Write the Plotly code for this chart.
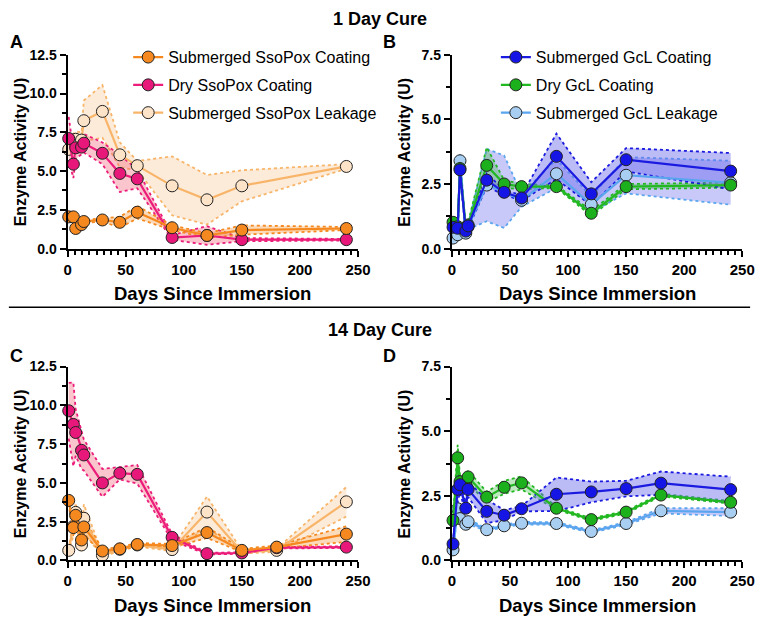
import plotly.graph_objects as go

# ---------------- data ----------------
days_1 = [1, 5, 7, 12, 14, 30, 45, 60, 90, 120, 150, 240]
days_14 = [1, 5, 7, 12, 14, 30, 45, 60, 90, 120, 150, 180, 240]

# Panel A (1 day cure, SsoPox)
sso_sub_A = [2.05, 2.05, 1.3, 1.55, 1.75, 1.85, 1.7, 2.35, 1.35, 0.85, 1.2, 1.3]
sso_sub_A_sd = [0.1, 0.15, 0.15, 0.1, 0.1, 0.1, 0.35, 0.4, 0.15, 0.15, 0.3, 0.1]
sso_dry_A = [7.1, 5.45, 6.5, 6.55, 6.8, 6.15, 4.85, 4.5, 0.72, 0.85, 0.58, 0.58]
sso_dry_A_sd = [1.4, 0.9, 0.7, 0.5, 0.6, 0.7, 1.2, 0.6, 0.15, 0.6, 0.1, 0.05]
sso_leak_A = [6.4, 7.0, 7.05, 7.0, 8.25, 8.85, 6.05, 5.35, 4.05, 3.15, 4.05, 5.3]
sso_leak_A_sd = [0.2, 0.4, 0.5, 0.5, 1.3, 1.7, 0.8, 0.3, 1.9, 1.6, 1.0, 0.15]

# Panel B (1 day cure, GcL)
gcl_sub_B = [0.83, 0.79, 3.05, 0.68, 0.88, 2.65, 2.18, 1.96, 3.57, 2.12, 3.44, 3.0]
gcl_sub_B_sd = [0.1, 0.1, 0.2, 0.1, 0.1, 0.25, 0.1, 0.1, 0.88, 0.45, 0.45, 0.7]
gcl_dry_B = [1.02, 0.85, 3.1, 0.8, 0.92, 3.22, 2.5, 2.4, 2.4, 1.37, 2.4, 2.46]
gcl_dry_B_sd = [0.05, 0.05, 0.2, 0.05, 0.1, 0.7, 0.15, 0.1, 0.05, 0.1, 0.1, 0.1]
gcl_leak_B = [0.41, 0.54, 3.4, 0.6, 0.85, 2.46, 2.2, 1.87, 2.9, 1.71, 2.84, 2.55]
gcl_leak_B_sd = [0.05, 0.05, 0.25, 0.1, 0.1, 1.4, 1.4, 0.25, 0.55, 0.3, 0.7, 0.85]

# Panel C (14 day cure, SsoPox)
sso_sub_C = [3.87, 2.12, 2.91, 1.32, 2.16, 0.61, 0.75, 1.03, 0.96, 1.8, 0.65, 0.86, 1.7]
sso_sub_C_sd = [0.2, 0.6, 0.4, 0.4, 0.5, 0.15, 0.1, 0.1, 0.1, 0.35, 0.1, 0.1, 0.5]
sso_dry_C = [9.65, 8.77, 8.25, 7.1, 6.8, 5.0, 5.63, 5.55, 1.49, 0.44, 0.48, 0.82, 0.86]
sso_dry_C_sd = [1.8, 2.7, 1.5, 1.2, 1.0, 0.9, 0.4, 0.6, 0.2, 0.05, 0.05, 0.05, 0.05]
sso_leak_C = [0.65, 2.2, 3.1, 1.0, 2.72, 0.33, 0.72, 1.0, 0.7, 3.12, 0.55, 0.65, 3.78]
sso_leak_C_sd = [0.1, 0.6, 0.6, 0.4, 0.9, 0.1, 0.1, 0.1, 0.1, 1.0, 0.1, 0.1, 0.95]

# Panel D (14 day cure, GcL)
gcl_sub_D = [0.64, 2.75, 2.93, 2.02, 2.75, 1.9, 1.75, 2.0, 2.56, 2.65, 2.78, 2.99, 2.74]
gcl_sub_D_sd = [0.05, 0.5, 0.3, 0.2, 0.3, 0.45, 0.2, 0.1, 0.65, 0.4, 0.3, 0.45, 0.5]
gcl_dry_D = [1.55, 3.97, 3.05, 2.95, 3.23, 2.45, 2.83, 3.0, 2.02, 1.58, 1.87, 2.53, 2.25]
gcl_dry_D_sd = [0.05, 0.5, 0.2, 0.15, 0.25, 0.2, 0.25, 0.25, 0.05, 0.05, 0.05, 0.05, 0.05]
gcl_leak_D = [0.41, 2.0, 1.62, 1.4, 1.5, 1.19, 1.34, 1.44, 1.43, 1.12, 1.43, 1.92, 1.87]
gcl_leak_D_sd = [0.05, 0.1, 0.1, 0.1, 0.1, 0.05, 0.05, 0.05, 0.05, 0.05, 0.05, 0.1, 0.15]

x_ticks = [0, 50, 100, 150, 200, 250]

# ---------------- styles ----------------
F = "Liberation Sans"
ORANGE = dict(line="#F5891F", marker="#F5891F", band="rgba(245,137,31,0.30)")
PINK = dict(line="#EC1C7B", marker="#E8177A", band="rgba(240,90,110,0.35)")
PEACH = dict(line="#F8B56A", marker="#FDE3C8", band="rgba(250,190,130,0.30)")
BLUE = dict(line="#1A1AE0", marker="#1515E6", band="rgba(105,105,235,0.45)")
GREEN = dict(line="#22B822", marker="#1DB01D", band="rgba(40,180,40,0.30)")
LBLUE = dict(line="#5AA6EE", marker="#A8CFF2", band="rgba(120,120,240,0.40)")

fig = go.Figure()


def band(x, y, sd, col, xa, ya):
    up = [a + b for a, b in zip(y, sd)]
    lo = [max(a - b, 0) for a, b in zip(y, sd)]
    fig.add_trace(go.Scatter(x=list(x) + list(x)[::-1], y=up + lo[::-1], fill="toself",
                             fillcolor=col["band"], line=dict(width=0), mode="lines",
                             showlegend=False, hoverinfo="skip", xaxis=xa, yaxis=ya))
    for yy in (up, lo):
        fig.add_trace(go.Scatter(x=x, y=yy, mode="lines",
                                 line=dict(color=col["line"], width=1.8, dash="dot"),
                                 showlegend=False, hoverinfo="skip", xaxis=xa, yaxis=ya))


def series(x, y, col, name, xa, ya, legend, rank, show):
    fig.add_trace(go.Scatter(x=x, y=y, mode="lines+markers", name=name,
                             line=dict(color=col["line"], width=2.2),
                             marker=dict(size=12, color=col["marker"], line=dict(color="#222", width=1)),
                             showlegend=show, legend=legend, legendrank=rank,
                             legendgroup=name + legend,
                             cliponaxis=False, xaxis=xa, yaxis=ya))


# Panel A
band(days_1, sso_leak_A, sso_leak_A_sd, PEACH, "x", "y")
band(days_1, sso_dry_A, sso_dry_A_sd, PINK, "x", "y")
band(days_1, sso_sub_A, sso_sub_A_sd, ORANGE, "x", "y")
series(days_1, sso_leak_A, PEACH, "Submerged SsoPox Leakage", "x", "y", "legend", 3, True)
series(days_1, sso_dry_A, PINK, "Dry SsoPox Coating", "x", "y", "legend", 2, True)
series(days_1, sso_sub_A, ORANGE, "Submerged SsoPox Coating", "x", "y", "legend", 1, True)

# Panel B
band(days_1, gcl_leak_B, gcl_leak_B_sd, LBLUE, "x2", "y2")
band(days_1, gcl_dry_B, gcl_dry_B_sd, GREEN, "x2", "y2")
band(days_1, gcl_sub_B, gcl_sub_B_sd, BLUE, "x2", "y2")
series(days_1, gcl_leak_B, LBLUE, "Submerged GcL Leakage", "x2", "y2", "legend2", 3, True)
series(days_1, gcl_dry_B, GREEN, "Dry GcL Coating", "x2", "y2", "legend2", 2, True)
series(days_1, gcl_sub_B, BLUE, "Submerged GcL Coating", "x2", "y2", "legend2", 1, True)

# Panel C
band(days_14, sso_leak_C, sso_leak_C_sd, PEACH, "x3", "y3")
band(days_14, sso_dry_C, sso_dry_C_sd, PINK, "x3", "y3")
band(days_14, sso_sub_C, sso_sub_C_sd, ORANGE, "x3", "y3")
series(days_14, sso_leak_C, PEACH, "Submerged SsoPox Leakage", "x3", "y3", "legend", 3, False)
series(days_14, sso_dry_C, PINK, "Dry SsoPox Coating", "x3", "y3", "legend", 2, False)
series(days_14, sso_sub_C, ORANGE, "Submerged SsoPox Coating", "x3", "y3", "legend", 1, False)

# Panel D
band(days_14, gcl_leak_D, gcl_leak_D_sd, LBLUE, "x4", "y4")
band(days_14, gcl_dry_D, gcl_dry_D_sd, GREEN, "x4", "y4")
band(days_14, gcl_sub_D, gcl_sub_D_sd, BLUE, "x4", "y4")
series(days_14, gcl_leak_D, LBLUE, "Submerged GcL Leakage", "x4", "y4", "legend2", 3, False)
series(days_14, gcl_dry_D, GREEN, "Dry GcL Coating", "x4", "y4", "legend2", 2, False)
series(days_14, gcl_sub_D, BLUE, "Submerged GcL Coating", "x4", "y4", "legend2", 1, False)

W, H = 768, 624


def px_x(p):
    return p / W


def px_y(p):
    return 1 - p / H


XL = [px_x(65), px_x(362)]
XR = [px_x(458), px_x(755)]
YT = [px_y(247), px_y(48)]
YB = [px_y(567), px_y(368)]

xtickfont = dict(family=F, size=15, color="black", weight="bold")
ytickfont = dict(family=F, size=14, color="black", weight="bold")


def xax(domain, anchor):
    return dict(domain=domain, anchor=anchor, range=[0, 250], tickvals=x_ticks,
                showline=True, linecolor="black", linewidth=2, ticks="outside", ticklen=6,
                tickwidth=2, tickcolor="black", tickfont=xtickfont, showgrid=False, zeroline=False,
                minor=dict(dtick=6.25, tick0=0, ticklen=4, tickwidth=1.5, tickcolor="black",
                           ticks="outside", showgrid=False))


def yax(domain, anchor, top):
    return dict(domain=domain, anchor=anchor, range=[0, top], dtick=2.5, tick0=0, tickformat=".1f",
                showline=True, linecolor="black", linewidth=2, ticks="outside", ticklen=6,
                tickwidth=2, tickcolor="black", tickfont=ytickfont, showgrid=False, zeroline=False,
                minor=dict(dtick=1.25, tick0=0, ticklen=4, tickwidth=1.5, tickcolor="black",
                           ticks="outside", showgrid=False))


ann = []
xtf = dict(family=F, size=18.5, color="black", weight="bold")
ytf = dict(family=F, size=16, color="black", weight="bold")
hf = dict(family=F, size=18, color="black", weight="bold")
for cx in (213.5, 606.5):
    for cy in (293, 613):
        ann.append(dict(text="Days Since Immersion", x=px_x(cx), y=px_y(cy), xref="paper", yref="paper",
                        showarrow=False, font=xtf, xanchor="center", yanchor="middle"))
for cx in (17, 410):
    for cy in (147.5, 467.5):
        ann.append(dict(text="Enzyme Activity (U)", x=px_x(cx), y=px_y(cy), xref="paper", yref="paper",
                        showarrow=False, font=ytf, textangle=-90, xanchor="center", yanchor="middle"))
for t, cx, cy in (("1 Day Cure", 384, 11), ("14 Day Cure", 384, 330)):
    ann.append(dict(text=t, x=px_x(cx), y=px_y(cy), xref="paper", yref="paper",
                    showarrow=False, font=hf, xanchor="center", yanchor="middle"))
for t, cx, cy in (("A", 13, 35), ("B", 394, 35), ("C", 13, 357), ("D", 394, 357)):
    ann.append(dict(text=t, x=px_x(cx), y=px_y(cy), xref="paper", yref="paper",
                    showarrow=False, font=hf, xanchor="center", yanchor="middle"))

legfont = dict(family=F, size=16, color="black")
fig.update_layout(
    width=W, height=H, margin=dict(l=0, r=0, t=0, b=0),
    paper_bgcolor="white", plot_bgcolor="white",
    xaxis=xax(XL, "y"), yaxis=yax(YT, "x", 12.5),
    xaxis2=xax(XR, "y2"), yaxis2=yax(YT, "x2", 7.5),
    xaxis3=xax(XL, "y3"), yaxis3=yax(YB, "x3", 12.5),
    xaxis4=xax(XR, "y4"), yaxis4=yax(YB, "x4", 7.5),
    legend=dict(x=px_x(127), y=px_y(33), xanchor="left", yanchor="top", font=legfont,
                bgcolor="rgba(0,0,0,0)", traceorder="grouped", tracegroupgap=4),
    legend2=dict(x=px_x(503), y=px_y(33), xanchor="left", yanchor="top", font=legfont,
                 bgcolor="rgba(0,0,0,0)", traceorder="grouped", tracegroupgap=4),
    annotations=ann,
    shapes=[dict(type="line", xref="paper", yref="paper", x0=px_x(5), x1=px_x(763),
                 y0=px_y(307), y1=px_y(307), line=dict(color="black", width=1.5))],
    showlegend=True,
)

fig.write_html("out.html")
